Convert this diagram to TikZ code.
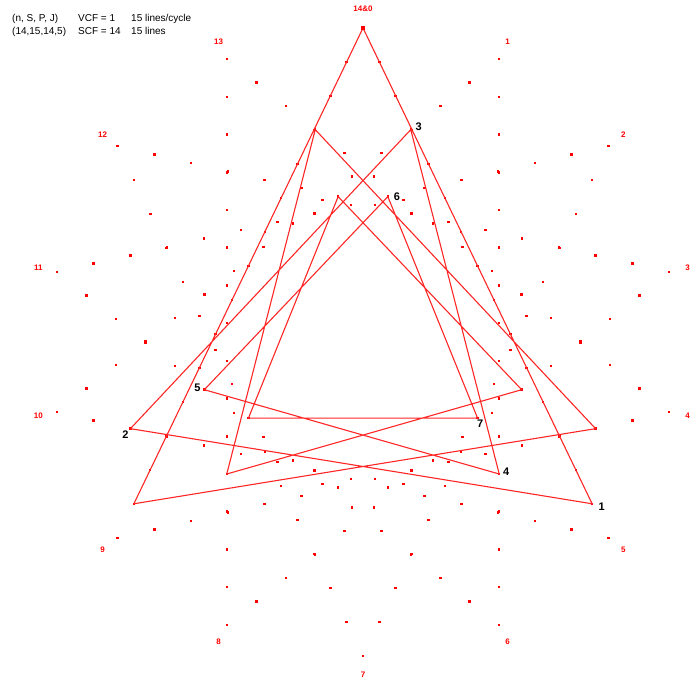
\documentclass[tikz,border=0pt]{standalone}
\usepackage{fontspec}
\setmainfont{Liberation Sans}
\usetikzlibrary{calc}
\begin{document}
\begin{tikzpicture}[x=1pt,y=-1pt,
  vlab/.style={text=red, font=\bfseries\fontsize{8}{9}\selectfont, inner sep=0pt},
  plab/.style={font=\bfseries\fontsize{11}{13}\selectfont, inner sep=0pt},
  dot/.style={fill=red, inner sep=0pt, minimum size=2.5pt},
  hdr/.style={font=\fontsize{10}{12}\selectfont, anchor=base west, inner sep=0pt},
  trace/.style={draw=red!85!white, line width=1.1pt, line join=miter},
]
\useasboundingbox (0,0) rectangle (695,684);
\def\R{314}
\def\cx{363}
\def\cy{342}
% header
\node[hdr] (h1) at (12,22)  {(n, S, P, J)};
\node[hdr] (h2) at (78,22)  {VCF = 1};
\node[hdr] (h3) at (131,22) {15 lines/cycle};
\node[hdr] (h4) at (12,35)  {(14,15,14,5)};
\node[hdr] (h5) at (78,35)  {SCF = 14};
\node[hdr] (h6) at (131,35) {15 lines};
% vertices and their labels
\foreach \i in {0,...,13} {
  \coordinate (v\i) at ({\cx+\R*sin(\i*360/14)},{\cy-\R*cos(\i*360/14)});
}
\node[vlab] (n0) at (\cx,{\cy-333}) {14\&0};
\foreach \i in {1,...,13}
  \node[vlab] (n\i) at ({\cx+333*sin(\i*360/14)},{\cy-333*cos(\i*360/14)}) {\i};
% points on the chords i -> i+5
\foreach \i in {0,...,13} {
  \pgfmathtruncatemacro{\j}{mod(\i+5,14)}
  \foreach \t in {0,...,15}
    \node[dot] (d\i-\t) at ($(v\i)!\t/15!(v\j)$) {};
}
% the cycle: point k on chord 5(k-1) at t=(15-k)/15
\foreach \k in {0,...,14} {
  \pgfmathtruncatemacro{\c}{mod(5*(\k+13),14)}
  \pgfmathtruncatemacro{\s}{15-\k}
  \coordinate (p\k) at (d\c-\s.center);
}
\draw[trace] (p0) \foreach \k in {1,...,14} { -- (p\k) } -- cycle;
\node[dot, minimum size=4pt] (top) at (p0) {};
% numbered corners
\node[plab] (l1) at ($(p1)+(9.5,3)$)  {1};
\node[plab] (l2) at ($(p2)+(-5,6)$)   {2};
\node[plab] (l3) at ($(p3)+(8,-3)$)   {3};
\node[plab] (l4) at ($(p4)+(7,-2)$)   {4};
\node[plab] (l5) at ($(p5)+(-7,-2)$)  {5};
\node[plab] (l6) at ($(p6)+(9,0.5)$)  {6};
\node[plab] (l7) at ($(p7)+(2.5,6)$)  {7};
\end{tikzpicture}
\end{document}
